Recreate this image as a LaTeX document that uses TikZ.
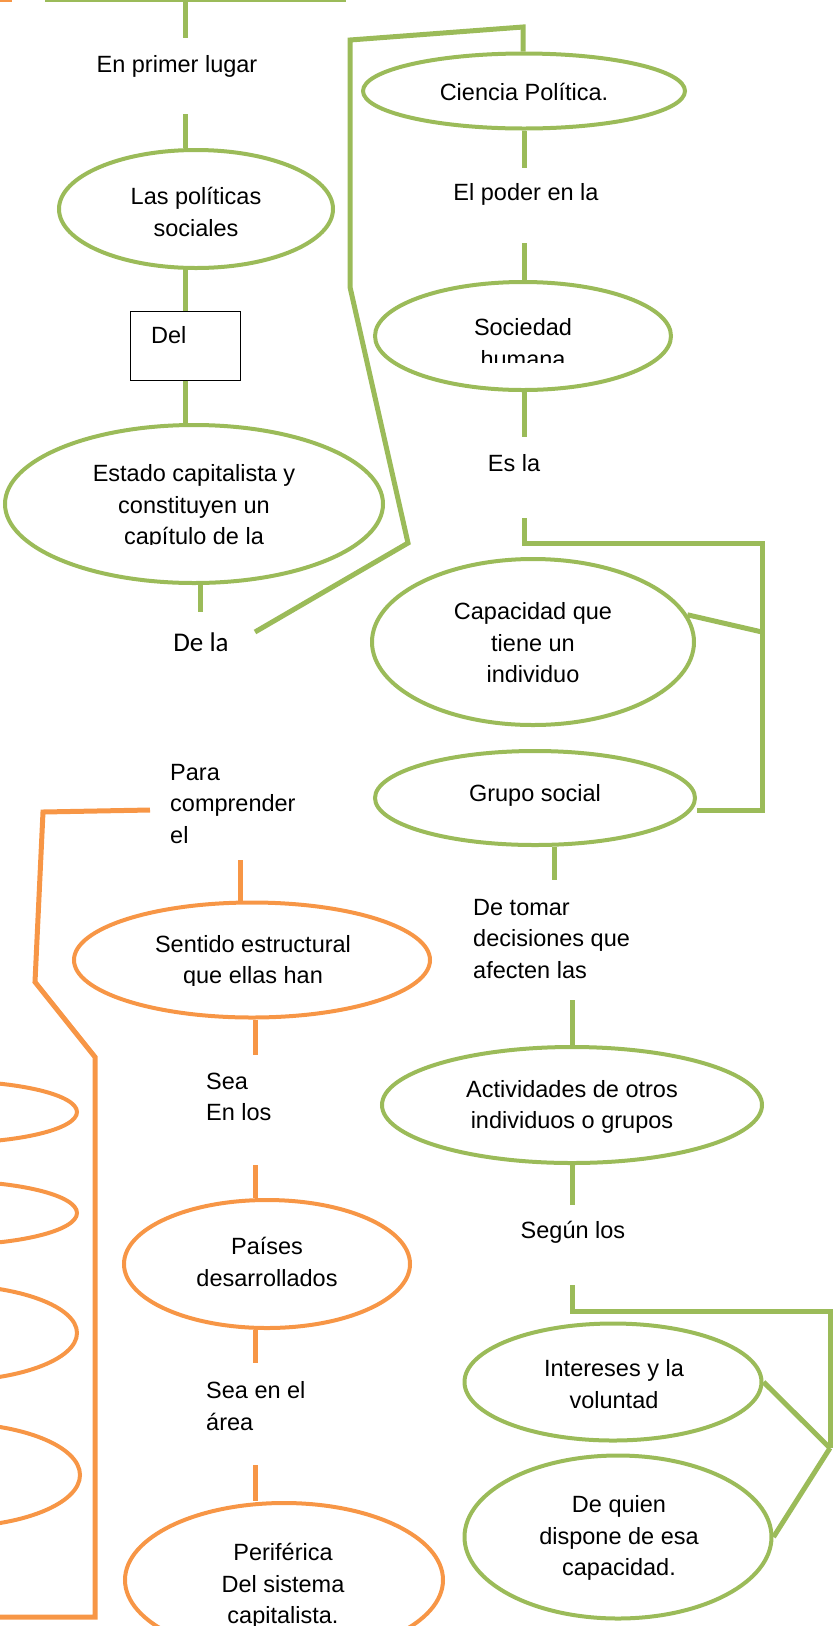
\documentclass[tikz,border=0pt]{standalone}
\usepackage{fontspec}
\setmainfont{Liberation Sans}
\newfontfamily\carlito{Carlito}
\usetikzlibrary{shapes.geometric}
\definecolor{gr}{HTML}{9BBB59}
\definecolor{og}{HTML}{F79646}
\begin{document}
\begin{tikzpicture}[x=1pt,y=-1pt,
  gline/.style={draw=gr,line width=5pt},
  oline/.style={draw=og,line width=5pt},
  gell/.style={ellipse,draw=gr,line width=4pt,inner sep=0pt},
  oell/.style={ellipse,draw=og,line width=4pt,inner sep=0pt},
  txt/.style={font=\fontsize{23.5}{31.5}\selectfont,align=center,inner sep=0pt},
  ltxt/.style={txt,align=left,anchor=west},
]
\useasboundingbox (0,0) rectangle (833,1626);
\clip (0,0) rectangle (833,1626);

% ---------- boxes at the top edge ----------
\node[draw=gr,line width=4pt,minimum width=297pt,minimum height=100pt,inner sep=0pt] (top) at (195.5,-50) {};
\node[draw=og,line width=4pt,minimum width=100pt,minimum height=100pt,inner sep=0pt] (topo) at (-40,-50) {};

% ---------- green ellipses ----------
\node[gell,minimum width=274pt,minimum height=118pt] (pol) at (196,209) {};
\node[draw=black,line width=1pt,minimum width=110pt,minimum height=69pt,inner sep=0pt] (del) at (185,345.5) {};
\node[gell,minimum width=378pt,minimum height=158pt] (est) at (194,504) {};
\node[gell,minimum width=322pt,minimum height=75pt] (cie) at (524,91) {};
\node[gell,minimum width=296pt,minimum height=108pt] (soc) at (523,336) {};
\node[gell,minimum width=322pt,minimum height=166pt] (cap) at (533,642) {};
\node[gell,minimum width=320pt,minimum height=94pt] (gru) at (535,798) {};
\node[gell,minimum width=380pt,minimum height=116pt] (act) at (572,1105) {};
\node[gell,minimum width=297pt,minimum height=117pt] (int) at (613,1382) {};
\node[gell,minimum width=307pt,minimum height=163pt] (deq) at (618,1537) {};

% ---------- orange ellipses ----------
\node[oell,minimum width=356pt,minimum height=115pt] (sen) at (252,960) {};
\node[oell,minimum width=286pt,minimum height=128pt] (pai) at (267,1264) {};
\node[oell,minimum width=318pt,minimum height=154pt] (per) at (284,1580) {};
\node[oell,minimum width=260pt,minimum height=62pt] (l1) at (-53,1112) {};
\node[oell,minimum width=260pt,minimum height=64pt] (l2) at (-53,1213) {};
\node[oell,minimum width=260pt,minimum height=96pt] (l3) at (-53,1333) {};
\node[oell,minimum width=260pt,minimum height=104pt] (l4) at (-50,1475) {};

% ---------- left green column connectors ----------
\coordinate (a1) at (185,38);
\coordinate (a2) at (185,114);
\coordinate (a3) at (200,612);
\draw[gline] (a1 |- top.south) -- (a1);
\draw[gline] (a2) -- (a2 |- pol.north);
\draw[gline] (a2 |- pol.south) -- (a2 |- del.north);
\draw[gline] (a2 |- del.south) -- (a2 |- est.north);
\draw[gline] (a3 |- est.south) -- (a3);

% left green bracket
\coordinate (b0) at (255,632);
\coordinate (b1) at (408,543);
\coordinate (b2) at (350,287);
\coordinate (b3) at (350,40);
\coordinate (b4) at (523,27);
\draw[gline] (b0) -- (b1) -- (b2) -- (b3) -- (b4) -- (b4 |- cie.north);

% right green column connectors
\coordinate (g1) at (524,168);
\coordinate (g2) at (524,243);
\coordinate (g3) at (524,437);
\coordinate (g4) at (554,880);
\coordinate (g5) at (572,1000);
\coordinate (g6) at (572,1205);
\draw[gline] (g1 |- cie.south) -- (g1);
\draw[gline] (g2) -- (g2 |- soc.north);
\draw[gline] (g3 |- soc.south) -- (g3);
\draw[gline] (g4 |- gru.south) -- (g4);
\draw[gline] (g5) -- (g5 |- act.north);
\draw[gline] (g6 |- act.south) -- (g6);

% right green bracket (upper)
\coordinate (r1) at (524,518);
\coordinate (r2) at (762,543);
\coordinate (r3) at (762,810);
\coordinate (r4) at (762,632);
\draw[gline] (r1) -- (r1 |- r2) -- (r2) -- (r3) -- (gru.east |- r3);
\draw[gline] (cap.10) -- (r4);

% right green bracket (lower)
\coordinate (s1) at (572,1285);
\coordinate (s2) at (830,1311);
\coordinate (s3) at (830,1448);
\draw[gline] (s1) -- (s1 |- s2) -- (s2) -- (s3);
\draw[gline] (s3) -- (int.east);
\draw[gline] (s3) -- (deq.east);

% ---------- orange connectors ----------
\coordinate (o0) at (150,810);
\coordinate (o1) at (43,812);
\coordinate (o2) at (35,982);
\coordinate (o3) at (95,1057);
\coordinate (o4) at (95,1617);
\coordinate (o5) at (-10,1617);
\draw[oline] (o0) -- (o1) -- (o2) -- (o3) -- (o4) -- (o5);

\coordinate (p1) at (240,860);
\coordinate (p2) at (255,1055);
\coordinate (p3) at (255,1165);
\coordinate (p4) at (255,1363);
\coordinate (p5) at (255,1465);
\draw[oline] (p1) -- (p1 |- sen.north);
\draw[oline] (p2 |- sen.south) -- (p2);
\draw[oline] (p3) -- (p3 |- pai.north);
\draw[oline] (p4 |- pai.south) -- (p4);
\draw[oline] (p5) -- (p5 |- per.north);

% ---------- texts ----------
\node[txt] (t1) at (177,66) {En primer lugar};
\node[txt] (polt) at (196,212) {Las políticas\\sociales};
\node[txt,anchor=west] (delt) at (151,335) {Del};
\begin{scope}
  \clip (0,400) rectangle (400,544);
  \node[txt] (estt) at (194,507) {Estado capitalista y\\constituyen un\\capítulo de la};
\end{scope}
\node[inner sep=0pt,font=\carlito\fontsize{27}{32}\selectfont] (dela) at (201,642) {De la};

\node[txt] (ciet) at (524,92) {Ciencia Política.};
\node[txt] (t2) at (526,194) {El poder en la};
\begin{scope}
  \clip (380,290) rectangle (670,362);
  \node[txt] (soct) at (523,343) {Sociedad\\humana};
\end{scope}
\node[txt] (t3) at (514,463) {Es la};
\node[txt] (capt) at (533,643) {Capacidad que\\tiene un\\individuo};
\node[txt] (grut) at (535,795) {Grupo social};
\node[ltxt] (t4) at (473,939) {De tomar\\decisiones que\\afecten las};
\node[txt] (actt) at (572,1107) {Actividades de otros\\individuos o grupos};
\node[txt] (t5) at (573,1232) {Según los};
\node[txt] (intt) at (614,1384) {Intereses y la\\voluntad};
\node[txt] (deqt) at (619,1538) {De quien\\dispone de esa\\capacidad.};

\node[ltxt] (t6) at (170,804) {Para\\comprender\\el};
\begin{scope}
  \clip (80,910) rectangle (430,985);
  \node[txt] (sent) at (253,962) {Sentido estructural\\que ellas han};
\end{scope}
\node[ltxt] (t7) at (206,1097) {Sea\\En los};
\node[txt] (pait) at (267,1262) {Países\\desarrollados};
\node[ltxt] (t8) at (206,1406) {Sea en el\\área};
\node[txt] (pert) at (283,1586) {Periférica\\Del sistema\\capitalista.};
\end{tikzpicture}
\end{document}
